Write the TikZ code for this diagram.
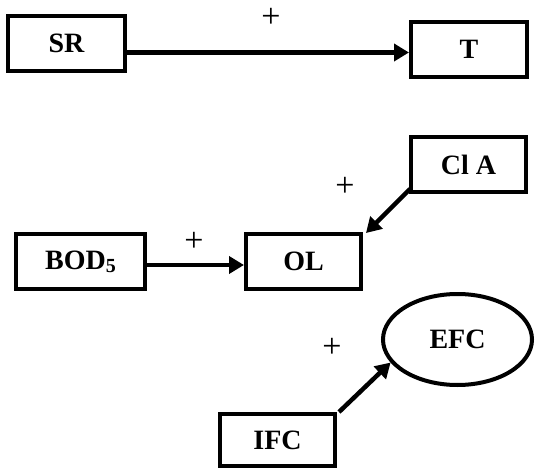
\documentclass[tikz,border=0pt]{standalone}
\usepackage{fontspec}
\setmainfont{Liberation Serif}
\usetikzlibrary{arrows.meta,shapes.geometric}
\begin{document}
\begin{tikzpicture}[x=1pt,y=-1pt,
  box/.style={draw,line width=4pt,rectangle,inner sep=0pt,font=\fontsize{28}{30}\selectfont\bfseries},
  oval/.style={draw,line width=4pt,ellipse,inner sep=0pt,font=\fontsize{28}{30}\selectfont\bfseries},
  link/.style={line width=4.5pt,-{Triangle[length=15pt,width=17pt]}},
  sign/.style={font=\fontsize{34}{36}\selectfont,inner sep=0pt}]
\useasboundingbox (0,0) rectangle (535,470);
\node[box,minimum width=117pt,minimum height=55pt] (SR) at (66.5,43.5) {SR};
\node[box,minimum width=116pt,minimum height=55pt] (T) at (469,49.5) {T};
\node[box,minimum width=115pt,minimum height=55pt] (CLA) at (468.5,164.5) {Cl A};
\node[box,minimum width=129pt,minimum height=55pt] (BOD) at (80.5,261.5) {BOD\raisebox{-3pt}{\fontsize{20}{20}\selectfont 5}};
\node[box,minimum width=115pt,minimum height=55pt] (OL) at (303.5,261.5) {OL};
\node[oval,minimum width=149pt,minimum height=91pt] (EFC) at (457.5,339.5) {EFC};
\node[box,minimum width=115pt,minimum height=52pt] (IFC) at (277.5,440) {IFC};
\node[sign] (p1) at (271,18) {+};
\node[sign] (p2) at (345,187) {+};
\node[sign] (p3) at (194,242) {+};
\node[sign] (p4) at (332,348) {+};
\draw[link] (SR.east |- 0,52.5) -- (T.west |- 0,52.5);
\draw[link] (BOD.east |- 0,265) -- (OL.west |- 0,265);
\draw[link] ([xshift=1pt,yshift=5pt]CLA.south west) -- ([xshift=3pt,yshift=-1pt]OL.north east);
\draw[link] ([xshift=2pt]IFC.north east) -- (EFC.199);
\end{tikzpicture}
\end{document}
